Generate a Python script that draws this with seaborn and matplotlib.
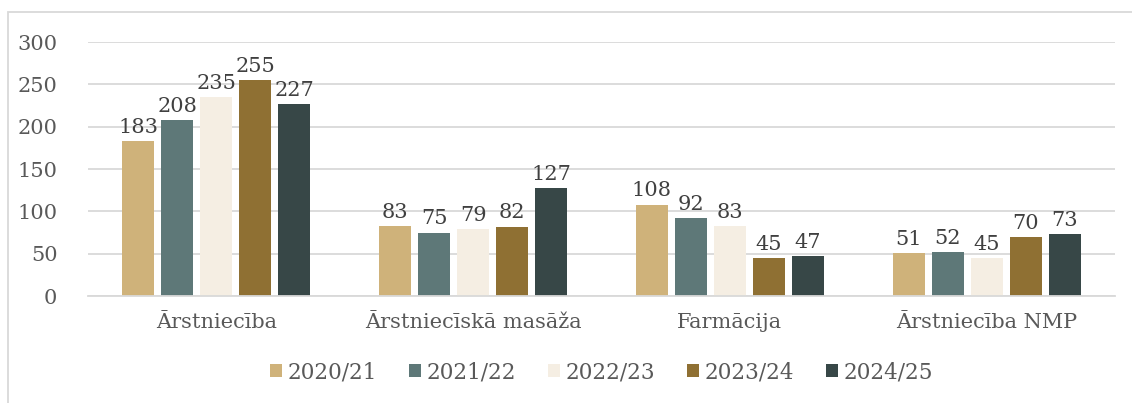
import pandas as pd
import matplotlib.pyplot as plt
import seaborn as sns
from matplotlib.patches import Rectangle

categories = ["Ārstniecība", "Ārstniecīskā masāža", "Farmācija", "Ārstniecība NMP"]
years = ["2020/21", "2021/22", "2022/23", "2023/24", "2024/25"]
v_2020 = [183, 83, 108, 51]
v_2021 = [208, 75, 92, 52]
v_2022 = [235, 79, 83, 45]
v_2023 = [255, 82, 45, 70]
v_2024 = [227, 127, 47, 73]
colors = ["#CFB27A", "#5E7878", "#F5EEE3", "#8F7033", "#374747"]

rows = []
for year, vals in zip(years, [v_2020, v_2021, v_2022, v_2023, v_2024]):
    for cat, v in zip(categories, vals):
        rows.append({"cat": cat, "year": year, "value": v})
df = pd.DataFrame(rows)

sns.set_style("white")
plt.rcParams["font.family"] = ["DejaVu Serif"]
text_col = "#595959"

fig = plt.figure(figsize=(11.32, 4.03), dpi=100)
ax = fig.add_axes([88 / 1132, 1 - 296 / 403, 1027 / 1132, 254 / 403])

sns.barplot(data=df, x="cat", y="value", hue="year", palette=colors,
            width=0.76, gap=0.18, ax=ax, legend=True, saturation=1,
            edgecolor="none")

for c in ax.containers:
    ax.bar_label(c, fontsize=15, color="#404040", padding=3)

ax.set_ylim(0, 300)
ax.set_yticks(range(0, 301, 50))
ax.yaxis.grid(True, color="#D9D9D9", linewidth=1.3)
ax.set_axisbelow(True)
for s in ["top", "right", "left"]:
    ax.spines[s].set_visible(False)
ax.spines["bottom"].set_color("#D9D9D9")
ax.spines["bottom"].set_linewidth(1.3)
ax.tick_params(axis="x", length=0, labelsize=15, colors=text_col, pad=12)
ax.tick_params(axis="y", length=0, labelsize=15, colors=text_col, pad=22)
ax.set_xlabel("")
ax.set_ylabel("")

ax.legend(loc="center", bbox_to_anchor=(0.5, -0.3), ncol=5, frameon=False,
          fontsize=15.5, labelcolor=text_col, handlelength=0.55, handleheight=0.55,
          handletextpad=0.25, columnspacing=1.5)

fig.patches.append(Rectangle((8 / 1132, -0.1), 1.2, 1 - 12 / 403 + 0.1,
                             transform=fig.transFigure, fill=False,
                             edgecolor="#D9D9D9", linewidth=1.3))

fig.savefig("out.png", dpi=100)
